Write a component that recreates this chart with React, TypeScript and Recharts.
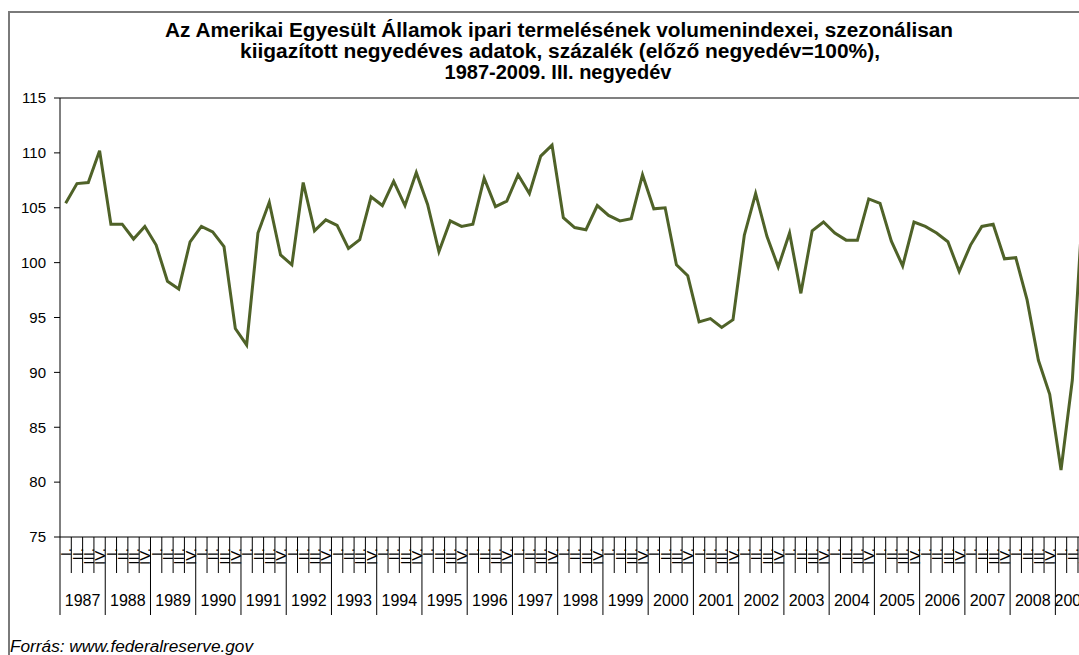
import React from 'react';
import { LineChart, Line, XAxis, YAxis, ReferenceLine } from 'recharts';

const years = ['1987','1988','1989','1990','1991','1992','1993','1994','1995','1996','1997','1998','1999','2000','2001','2002','2003','2004','2005','2006','2007','2008','2009'];
const quarterLabels = ['I.', 'II.', 'III.', 'IV.'];
const values = [
  105.4, 107.2, 107.3, 110.2,
  103.5, 103.5, 102.15, 103.3,
  101.6, 98.3, 97.6, 101.9,
  103.3, 102.8, 101.45, 94.0,
  92.5, 102.7, 105.5, 100.7,
  99.8, 107.3, 102.9, 103.9,
  103.4, 101.3, 102.1, 106.0,
  105.2, 107.4, 105.2, 108.2,
  105.3, 101.0, 103.8, 103.3,
  103.5, 107.7, 105.1, 105.6,
  108.0, 106.3, 109.7, 110.7,
  104.1, 103.2, 103.0, 105.2,
  104.3, 103.8, 104.0, 108.0,
  104.9, 105.0, 99.8, 98.8,
  94.6, 94.9, 94.1, 94.8,
  102.5, 106.3, 102.4, 99.6,
  102.7, 97.2, 102.9, 103.7,
  102.7, 102.05, 102.05, 105.8,
  105.4, 101.95, 99.7, 103.7,
  103.3, 102.7, 101.9, 99.2,
  101.6, 103.3, 103.5, 100.35,
  100.45, 96.6, 91.1, 88.0,
  81.1, 89.3, 106.6,
];
const yTicks = [75, 80, 85, 90, 95, 100, 105, 110, 115];
const titleLines = [
  'Az Amerikai Egyesült Államok ipari termelésének volumenindexei, szezonálisan',
  'kiigazított negyedéves adatok, százalék (előző negyedév=100%),',
  '1987-2009. III. negyedév',
];
const sourceText = 'Forrás: www.federalreserve.gov';

const data = values.map((v, i) => ({
  q: `${years[Math.floor(i / 4)]} ${quarterLabels[i % 4]}`,
  year: years[Math.floor(i / 4)],
  quarter: quarterLabels[i % 4],
  v,
}));

const FONT = '"Liberation Sans", Arial, sans-serif';
const CHART_W = 1120;
const CHART_H = 640;
const MARGIN = { top: 90, left: 0, right: 38.7, bottom: 11 };
const YAXIS_W = 52;
const XAXIS_H = CHART_H - MARGIN.top - MARGIN.bottom - 439;
const PLOT_W = CHART_W - MARGIN.left - MARGIN.right - YAXIS_W;
const BW = PLOT_W / data.length;
const AXIS_Y = MARGIN.top + 439;

const QuarterTick = (props: any) => {
  const { x, payload } = props;
  const i = payload.index;
  const d = data[i];
  if (!d) return null;
  const left = x - BW / 2;
  const right = x + BW / 2;
  const y = AXIS_Y;
  const qi = i % 4;
  const isYearEnd = qi === 3 || i === data.length - 1;
  const els: any[] = [];
  if (i === 0) {
    els.push(<line key="l0" x1={left} x2={left} y1={y} y2={y + 78} stroke="#000" strokeWidth={1} />);
  }
  els.push(
    <line key="r" x1={right} x2={right} y1={y} y2={y + (isYearEnd ? 78 : 36)} stroke="#000" strokeWidth={1} />
  );
  const ty = y + 11;
  els.push(
    <text key="q" x={right} y={ty} transform={`rotate(-90 ${right} ${ty})`} textAnchor="end"
      fontSize={15} fontFamily={FONT} fill="#000">{d.quarter}</text>
  );
  if (qi === 0) {
    const n = Math.min(4, data.length - i);
    const cx = left + (n * BW) / 2;
    els.push(
      <text key="y" x={cx} y={y + 69} textAnchor="middle" fontSize={16} fontFamily={FONT} fill="#000">{d.year}</text>
    );
  }
  return <g>{els}</g>;
};

export default function App() {
  return (
    <div style={{ position: 'fixed', left: 8, top: 8, width: 1071, height: 647, overflow: 'hidden', fontFamily: FONT, background: '#fff' }}>
      <div style={{ position: 'absolute', left: 0, top: 3, width: 1300, height: 900, borderLeft: '2px solid #7a7a7a', borderTop: '2px solid #7a7a7a' }} />
      <div style={{ position: 'absolute', left: 0, top: 0 }}>
        <LineChart width={CHART_W} height={CHART_H} data={data} margin={MARGIN}>
          <ReferenceLine y={115} stroke="#808080" strokeWidth={2} />
          <XAxis dataKey="q" interval={0} height={XAXIS_H} tickSize={0} tickMargin={0}
            padding={{ left: BW / 2, right: BW / 2 }}
            axisLine={{ stroke: '#000', strokeWidth: 1 }} tickLine={false} tick={<QuarterTick />} />
          <YAxis domain={[75, 115]} ticks={yTicks} interval={0} width={YAXIS_W} tickSize={6} tickMargin={8}
            axisLine={{ stroke: '#000', strokeWidth: 1 }} tickLine={{ stroke: '#000', strokeWidth: 1 }}
            tick={{ fill: '#000', fontSize: 15, fontFamily: FONT }} allowDataOverflow />
          <Line type="linear" dataKey="v" stroke="#4F6228" strokeWidth={3} dot={false} activeDot={false} isAnimationActive={false} />
        </LineChart>
      </div>
      <svg width={1071} height={647} style={{ position: 'absolute', left: 0, top: 0, pointerEvents: 'none' }}>
        <text x={551} y={29} textAnchor="middle" fontSize={20} fontWeight="bold" fontFamily={FONT} textLength={788} lengthAdjust="spacingAndGlyphs">{titleLines[0]}</text>
        <text x={552} y={50} textAnchor="middle" fontSize={20} fontWeight="bold" fontFamily={FONT} textLength={640} lengthAdjust="spacingAndGlyphs">{titleLines[1]}</text>
        <text x={550} y={71} textAnchor="middle" fontSize={20} fontWeight="bold" fontFamily={FONT}>{titleLines[2]}</text>
        <text x={2} y={644} fontSize={16} fontStyle="italic" fontFamily={FONT} fill="#000" textLength={243} lengthAdjust="spacingAndGlyphs">{sourceText}</text>
      </svg>
    </div>
  );
}
